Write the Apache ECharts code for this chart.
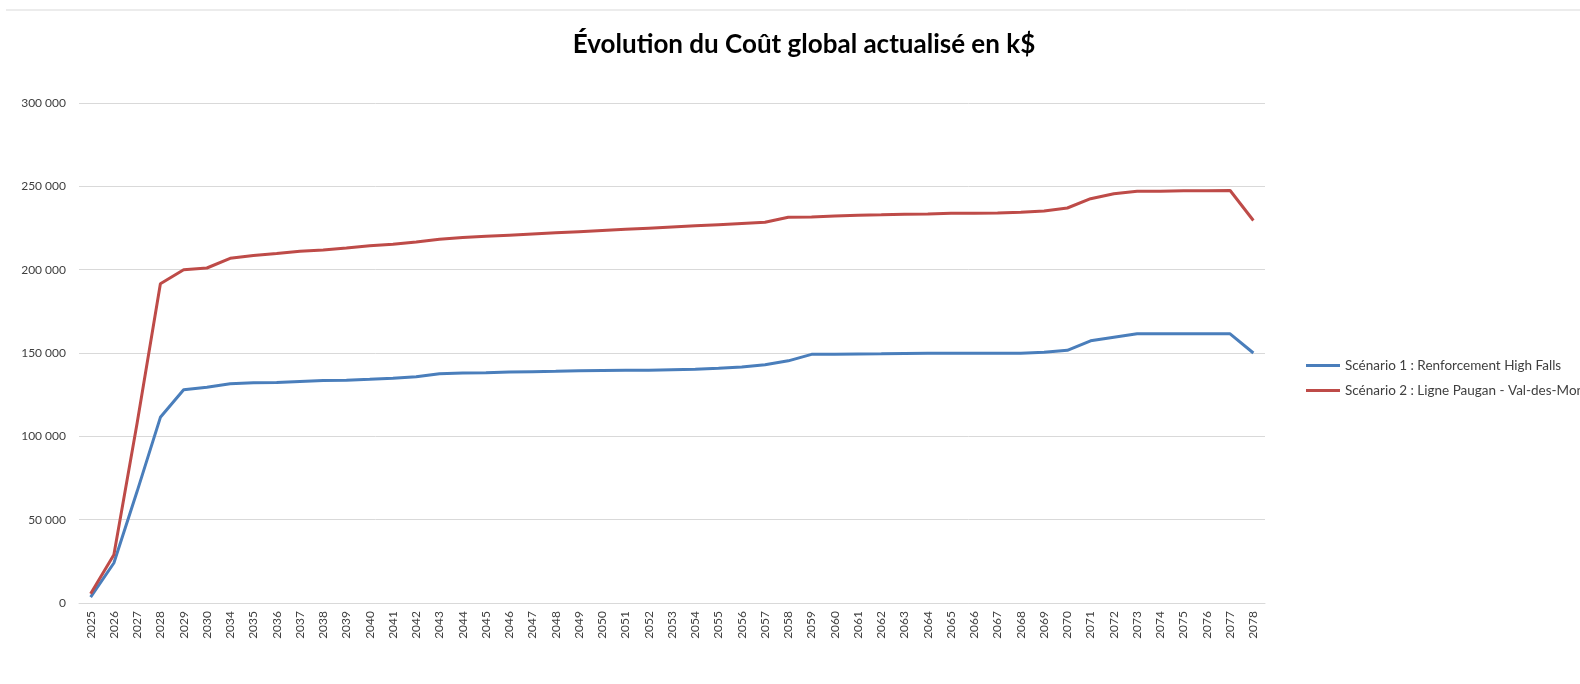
<!DOCTYPE html>
<html>
<head>
<meta charset="utf-8">
<title>Coût global actualisé</title>
<script src="https://cdn.jsdelivr.net/npm/echarts@6/dist/echarts.min.js"></script>
<style>
    html, body { margin: 0; padding: 0; background: #ffffff; }
    #draw_area { width: 1580px; height: 684px; }
</style>
</head>
<body>
<div id="draw_area"></div>
<script>
"use strict";

// années (2031-2033 absentes dans le tableau d'origine)
var years = ['2025', '2026', '2027', '2028', '2029', '2030',
    '2034', '2035', '2036', '2037', '2038', '2039', '2040', '2041', '2042', '2043',
    '2044', '2045', '2046', '2047', '2048', '2049', '2050', '2051', '2052', '2053',
    '2054', '2055', '2056', '2057', '2058', '2059', '2060', '2061', '2062', '2063',
    '2064', '2065', '2066', '2067', '2068', '2069', '2070', '2071', '2072', '2073',
    '2074', '2075', '2076', '2077', '2078'];

// Scénario 1 : Renforcement High Falls (k$)
var scenario1 = [3500, 24000, 67000, 111400, 128000, 129500,
    131500, 132200, 132300, 132900, 133500, 133600, 134200, 134900, 135700, 137600,
    138000, 138200, 138600, 138800, 139000, 139400, 139500, 139600, 139700, 140000,
    140300, 140800, 141600, 143000, 145300, 149200, 149300, 149400, 149500, 149700,
    149800, 149800, 149800, 149800, 149900, 150400, 151600, 157300, 159400, 161500,
    161500, 161500, 161500, 161500, 150000];

// Scénario 2 : Ligne Paugan - Val-des-Monts (k$)
var scenario2 = [5500, 29000, 108000, 191600, 200000, 201000,
    206800, 208500, 209700, 211000, 211800, 213000, 214300, 215200, 216600, 218200,
    219300, 220000, 220700, 221400, 222100, 222800, 223500, 224200, 224900, 225600,
    226300, 227000, 227700, 228400, 231500, 231600, 232200, 232700, 232900, 233300,
    233400, 233800, 233900, 234000, 234500, 235200, 237000, 242600, 245600, 247000,
    247000, 247300, 247300, 247500, 229500];

var seriesNames = ['Scénario 1 : Renforcement High Falls', 'Scénario 2 : Ligne Paugan - Val-des-Monts'];

var fontName = 'Lato, "Open Sans", sans-serif';

function formatThousands(v) {
    return String(v).replace(/\B(?=(\d{3})+(?!\d))/g, ' ');
}

const option = {
    animation: false,
    backgroundColor: '#ffffff',
    title: {
        text: 'Évolution du Coût global actualisé en k$',
        left: 799,
        top: 27,
        textAlign: 'center',
        textStyle: {
            fontFamily: fontName,
            fontWeight: 'bold',
            fontSize: 26,
            color: '#000000'
        }
    },
    legend: {
        orient: 'vertical',
        left: 1301,
        top: 353,
        icon: 'rect',
        itemWidth: 34,
        itemHeight: 3,
        itemGap: 10,
        data: seriesNames,
        textStyle: {
            fontFamily: fontName,
            fontSize: 13.5,
            lineHeight: 15,
            color: '#404040'
        }
    },
    grid: {
        left: 79,
        right: 315,
        top: 103,
        bottom: 81
    },
    graphic: [
        {
            type: 'line',
            shape: { x1: 6, y1: 10, x2: 1580, y2: 10 },
            style: { stroke: '#d9d9d9', lineWidth: 1 }
        }
    ],
    xAxis: {
        type: 'category',
        data: years,
        boundaryGap: true,
        axisLine: { lineStyle: { color: '#d9d9d9', width: 1 } },
        axisTick: { show: false },
        axisLabel: {
            rotate: 90,
            interval: 0,
            margin: 8,
            fontFamily: fontName,
            fontSize: 12,
            color: '#404040'
        }
    },
    yAxis: {
        type: 'value',
        min: 0,
        max: 300000,
        interval: 50000,
        axisLine: { show: false },
        axisTick: { show: false },
        splitLine: { lineStyle: { color: '#d9d9d9', width: 1 } },
        axisLabel: {
            margin: 13,
            fontFamily: fontName,
            fontSize: 12,
            color: '#404040',
            formatter: formatThousands
        }
    },
    series: [
        {
            name: seriesNames[0],
            type: 'line',
            data: scenario1,
            symbol: 'none',
            color: '#4A7EBB',
            lineStyle: { width: 3, color: '#4A7EBB' }
        },
        {
            name: seriesNames[1],
            type: 'line',
            data: scenario2,
            symbol: 'none',
            color: '#BE4B48',
            lineStyle: { width: 3, color: '#BE4B48' }
        }
    ]
};

var chart_object = echarts.init(document.getElementById('draw_area'));
chart_object.setOption(option);
</script>
</body>
</html>
